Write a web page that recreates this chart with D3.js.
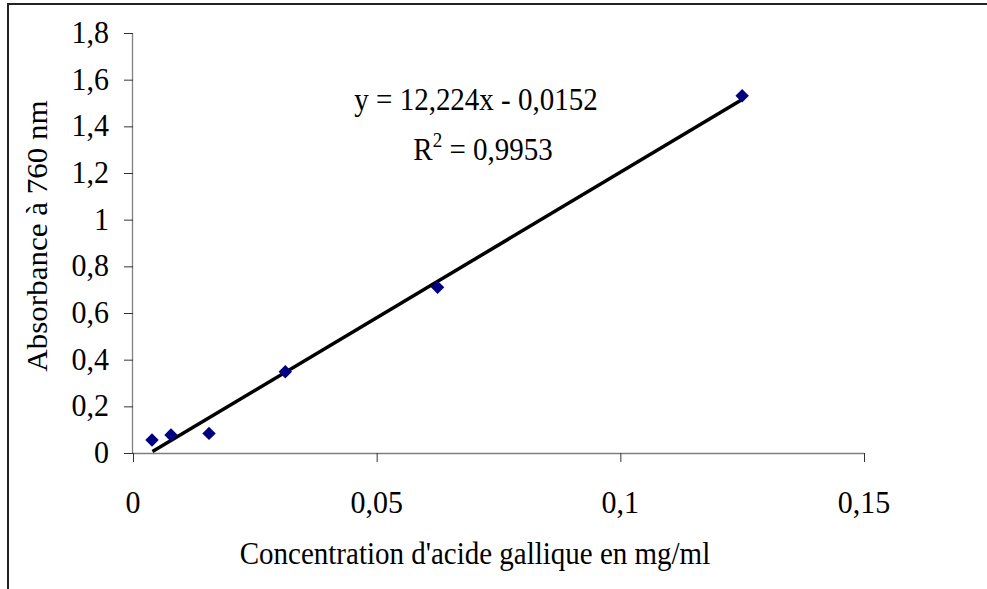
<!DOCTYPE html>
<html><head><meta charset="utf-8">
<script src="https://cdn.jsdelivr.net/npm/d3@7/dist/d3.min.js"></script>
<style>html,body{margin:0;padding:0;background:#fff;overflow:hidden}</style>
</head><body>
<svg id="chart" width="987" height="589"></svg>
<script>
const xValues = [0.0039, 0.0078, 0.0156, 0.03125, 0.0625, 0.125];
const yValues = [0.056, 0.077, 0.084, 0.348, 0.71, 1.531];
const trendX = [0.004, 0.125];
const trendY = [0.006, 1.515];
const xTicks = [0, 0.05, 0.1, 0.15];
const yTicks = [0, 0.2, 0.4, 0.6, 0.8, 1, 1.2, 1.4, 1.6, 1.8];
const xTitle = "Concentration d'acide gallique en mg/ml";
const yTitle = "Absorbance à 760 nm";
const eqLine = "y = 12,224x - 0,0152";
const r2Value = "0,9953";

const FONT = "'Liberation Serif','Times New Roman',serif";
const FS = 29, TFS = 30, SY = 1.07;
const svg = d3.select("#chart");
const fmt = d => String(d).replace('.', ',');

// outer frame
svg.append("rect").attr("x", 8).attr("y", 4).attr("width", 1100).attr("height", 700)
  .attr("fill", "none").attr("stroke", "#222").attr("stroke-width", 2);

const x = d3.scaleLinear().domain([0, 0.15]).range([133, 864]);
const y = d3.scaleLinear().domain([0, 1.8]).range([453, 33]);

function txt(px, py, s, anchor, size) {
  return svg.append("text")
    .attr("transform", `translate(${px},${py}) scale(1,${SY})`)
    .attr("text-anchor", anchor).attr("font-family", FONT).attr("font-size", size || FS)
    .attr("fill", "#000").text(s);
}

// axes
const yAxis = d3.axisLeft(y).tickValues(yTicks).tickSize(9).tickFormat("");
const gy = svg.append("g").attr("transform", `translate(${x(0)},0)`).call(yAxis);
const xAxis = d3.axisBottom(x).tickValues(xTicks).tickSize(9).tickFormat("");
const gx = svg.append("g").attr("transform", `translate(0,${y(0)})`).call(xAxis);
[gx, gy].forEach(g => {
  g.select(".domain").attr("stroke", "#808080").attr("stroke-width", 1.3);
  g.selectAll(".tick line").attr("stroke", "#333").attr("stroke-width", 1);
});
gx.select(".domain").attr("d", `M${x(0)},0.5H${x(0.15)}`);
gy.select(".domain").attr("d", `M-0.5,${y(1.8)}V${y(0)}`);

yTicks.forEach(t => txt(109, y(t) + 10, fmt(t), "end", TFS));
xTicks.forEach(t => txt(x(t), 513, fmt(t), "middle", TFS));

// titles
txt(475, 564, xTitle, "middle");
svg.append("text")
  .attr("transform", `translate(47,236) scale(1,${SY}) rotate(-90)`)
  .attr("text-anchor", "middle").attr("font-family", FONT).attr("font-size", FS)
  .text(yTitle);

// trendline
svg.append("line")
  .attr("x1", x(trendX[0])).attr("y1", y(trendY[0]))
  .attr("x2", x(trendX[1])).attr("y2", y(trendY[1]))
  .attr("stroke", "#000").attr("stroke-width", 3.5);

// points
const sym = d3.symbol().type(d3.symbolSquare).size(90);
svg.append("g").selectAll("path").data(xValues).join("path")
  .attr("d", sym)
  .attr("transform", (d, i) => `translate(${x(d)},${y(yValues[i])}) rotate(45)`)
  .attr("fill", "#000080");

// equation
txt(476, 110, eqLine, "middle");
const r2 = txt(483, 160, null, "middle");
r2.append("tspan").text("R");
r2.append("tspan").attr("font-size", 19).attr("dy", -12).text("2");
r2.append("tspan").attr("dy", 12).text(" = " + r2Value);
</script>
</body></html>
